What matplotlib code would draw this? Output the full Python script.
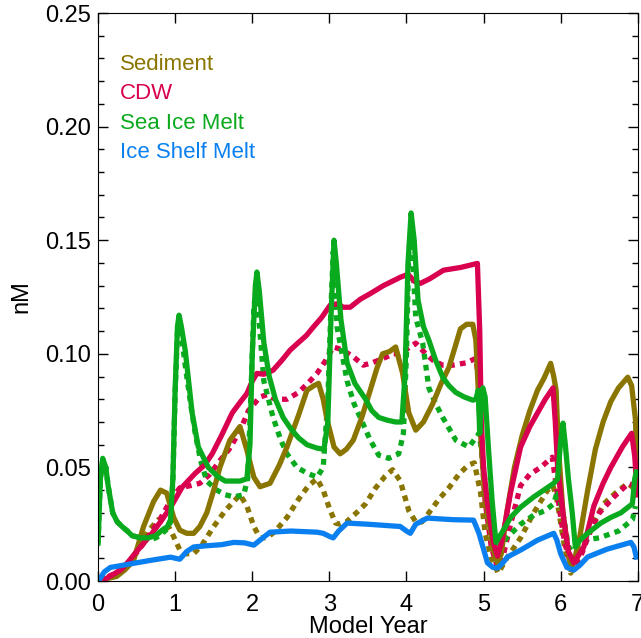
import matplotlib
matplotlib.use('Agg')
import matplotlib.pyplot as plt
from matplotlib.ticker import MultipleLocator

plt.rcParams['font.family'] = ['Liberation Sans', 'DejaVu Sans']
plt.rcParams['font.size'] = 17

labels = ['Sediment', 'CDW', 'Sea Ice Melt', 'Ice Shelf Melt']
colors = ['#8a7500', '#d8004f', '#0aaa1e', '#0a80f0']

# solid lines
sed_x = [0, 0.1, 0.24, 0.35, 0.46, 0.59, 0.72, 0.81, 0.89, 0.98, 1.06, 1.15, 1.24, 1.32, 1.41, 1.5, 1.58,
         1.71, 1.84, 1.93, 2.02, 2.1, 2.23, 2.35, 2.45, 2.6, 2.71, 2.8, 2.86, 2.92, 2.97, 3.06, 3.14, 3.22,
         3.31, 3.42, 3.53, 3.62, 3.69, 3.78, 3.86, 3.95, 4.03, 4.12, 4.22, 4.34, 4.45, 4.55, 4.63, 4.7,
         4.78, 4.86, 4.9, 4.93, 4.96, 5.01, 5.06, 5.13, 5.18, 5.23, 5.3, 5.4, 5.5, 5.6, 5.7, 5.78, 5.87,
         5.91, 5.94, 5.97, 6.03, 6.09, 6.13, 6.17, 6.25, 6.35, 6.45, 6.55, 6.65, 6.75, 6.87, 6.92, 6.97, 6.99]
sed_y = [0, 0.001, 0.002, 0.005, 0.009, 0.024, 0.035, 0.040, 0.0387, 0.028, 0.0224, 0.021, 0.021, 0.024,
         0.030, 0.040, 0.050, 0.062, 0.068, 0.0576, 0.0457, 0.0415, 0.043, 0.051, 0.059, 0.073, 0.084, 0.086,
         0.087, 0.080, 0.071, 0.059, 0.056, 0.058, 0.062, 0.072, 0.084, 0.094, 0.100, 0.101, 0.103, 0.0914,
         0.074, 0.0664, 0.070, 0.078, 0.087, 0.094, 0.103, 0.111, 0.113, 0.113, 0.106, 0.085, 0.065, 0.040,
         0.028, 0.0136, 0.008, 0.012, 0.030, 0.050, 0.064, 0.075, 0.084, 0.089, 0.0958, 0.090, 0.084, 0.059,
         0.030, 0.015, 0.006, 0.008, 0.020, 0.040, 0.058, 0.070, 0.079, 0.085, 0.0897, 0.086, 0.071, 0.045]

cdw_x = [0, 0.1, 0.2, 0.3, 0.39, 0.5, 0.6, 0.7, 0.83, 0.95, 1.09, 1.26, 1.38, 1.48, 1.6, 1.74, 1.85, 1.93,
         2.0, 2.06, 2.15, 2.27, 2.38, 2.49, 2.6, 2.7, 2.79, 2.9, 3.01, 3.1, 3.18, 3.27, 3.4, 3.53, 3.7, 3.92,
         4.02, 4.1, 4.18, 4.3, 4.48, 4.7, 4.92, 4.95, 4.97, 5.0, 5.05, 5.13, 5.18, 5.24, 5.35, 5.48, 5.6,
         5.7, 5.8, 5.9, 5.93, 5.96, 6.04, 6.1, 6.17, 6.3, 6.43, 6.55, 6.65, 6.8, 6.92, 6.96, 6.99]
cdw_y = [0, 0.001, 0.003, 0.005, 0.0084, 0.013, 0.017, 0.021, 0.027, 0.033, 0.0413, 0.0474, 0.051, 0.056,
         0.064, 0.074, 0.079, 0.0825, 0.088, 0.0914, 0.091, 0.0928, 0.097, 0.1016, 0.105, 0.108, 0.1117,
         0.116, 0.1214, 0.122, 0.1205, 0.1205, 0.124, 0.1265, 0.130, 0.1337, 0.135, 0.132, 0.131, 0.133,
         0.1368, 0.138, 0.1398, 0.110, 0.070, 0.050, 0.034, 0.0167, 0.011, 0.018, 0.039, 0.059, 0.068,
         0.074, 0.080, 0.085, 0.070, 0.050, 0.027, 0.013, 0.008, 0.015, 0.033, 0.043, 0.050, 0.059, 0.065,
         0.055, 0.040]

sim_x = [0, 0.03, 0.06, 0.1, 0.13, 0.19, 0.25, 0.31, 0.38, 0.44, 0.55, 0.65, 0.75, 0.83, 0.9, 0.94, 0.97,
         1.0, 1.03, 1.05, 1.08, 1.13, 1.22, 1.3, 1.43, 1.55, 1.65, 1.75, 1.84, 1.93, 1.97, 2.0, 2.04, 2.06,
         2.09, 2.15, 2.22, 2.3, 2.4, 2.5, 2.6, 2.71, 2.84, 2.93, 2.98, 3.02, 3.06, 3.09, 3.15, 3.23, 3.33,
         3.47, 3.55, 3.64, 3.75, 3.86, 3.94, 3.98, 4.02, 4.06, 4.1, 4.15, 4.22, 4.29, 4.38, 4.47, 4.55, 4.64,
         4.75, 4.86, 4.9, 4.93, 4.95, 4.97, 4.99, 5.02, 5.06, 5.11, 5.16, 5.25, 5.35, 5.48, 5.65, 5.78, 5.91,
         5.96, 6.0, 6.03, 6.06, 6.1, 6.15, 6.19, 6.25, 6.35, 6.52, 6.65, 6.78, 6.93, 6.96, 6.98]
sim_y = [0.0167, 0.045, 0.054, 0.050, 0.042, 0.030, 0.026, 0.024, 0.022, 0.020, 0.019, 0.019, 0.020,
         0.0224, 0.024, 0.027, 0.045, 0.085, 0.112, 0.117, 0.112, 0.1016, 0.074, 0.059, 0.050, 0.046, 0.044,
         0.044, 0.044, 0.045, 0.060, 0.100, 0.130, 0.136, 0.128, 0.105, 0.090, 0.080, 0.072, 0.067, 0.063,
         0.060, 0.0585, 0.058, 0.070, 0.115, 0.150, 0.140, 0.115, 0.096, 0.087, 0.080, 0.075, 0.072, 0.0708,
         0.070, 0.070, 0.090, 0.140, 0.162, 0.150, 0.1236, 0.112, 0.106, 0.097, 0.0897, 0.086, 0.083, 0.081,
         0.0796, 0.080, 0.084, 0.065, 0.082, 0.085, 0.081, 0.060, 0.0356, 0.017, 0.022, 0.028, 0.0325, 0.037,
         0.040, 0.043, 0.045, 0.062, 0.0695, 0.060, 0.045, 0.030, 0.015, 0.018, 0.021, 0.0255, 0.028, 0.030,
         0.034, 0.045, 0.048]

ism_x = [0, 0.03, 0.08, 0.16, 0.25, 0.46, 0.7, 0.94, 1.06, 1.15, 1.24, 1.4, 1.6, 1.76, 1.9, 2.02, 2.1, 2.23,
         2.5, 2.84, 2.92, 3.01, 3.05, 3.12, 3.23, 3.5, 3.92, 4.0, 4.05, 4.12, 4.27, 4.6, 4.87, 4.94, 5.0,
         5.05, 5.12, 5.18, 5.25, 5.31, 5.5, 5.7, 5.91, 5.95, 6.0, 6.08, 6.17, 6.25, 6.35, 6.6, 6.91, 6.95, 6.98]
ism_y = [0, 0.0013, 0.004, 0.006, 0.0065, 0.0078, 0.0092, 0.0105, 0.0096, 0.013, 0.015, 0.0155, 0.016,
         0.017, 0.0168, 0.0158, 0.018, 0.0215, 0.022, 0.0215, 0.021, 0.0195, 0.019, 0.022, 0.0255, 0.025,
         0.024, 0.022, 0.021, 0.025, 0.0277, 0.027, 0.0268, 0.021, 0.014, 0.008, 0.006, 0.0057, 0.008,
         0.0106, 0.014, 0.018, 0.021, 0.018, 0.012, 0.006, 0.0048, 0.007, 0.0106, 0.014, 0.017, 0.015, 0.0106]

# dotted lines
sed_d_x = [0, 0.2, 0.35, 0.5, 0.65, 0.78, 0.88, 0.96, 1.06, 1.15, 1.24, 1.35, 1.5, 1.65, 1.76, 1.84, 1.93,
           2.02, 2.1, 2.19, 2.3, 2.45, 2.6, 2.73, 2.84, 2.92, 3.0, 3.08, 3.14, 3.22, 3.35, 3.47, 3.6, 3.72,
           3.82, 3.92, 4.03, 4.12, 4.2, 4.29, 4.42, 4.55, 4.68, 4.8, 4.88, 4.96, 5.02, 5.1, 5.19, 5.3, 5.48,
           5.65, 5.83, 5.9, 5.95, 6.05, 6.13, 6.25, 6.4, 6.56, 6.72, 6.87, 6.98]
sed_d_y = [0, 0.002, 0.006, 0.013, 0.022, 0.027, 0.026, 0.021, 0.0137, 0.012, 0.012, 0.016, 0.024, 0.031,
           0.035, 0.038, 0.033, 0.024, 0.019, 0.019, 0.022, 0.028, 0.036, 0.042, 0.045, 0.040, 0.032, 0.0255,
           0.025, 0.026, 0.030, 0.034, 0.041, 0.046, 0.049, 0.044, 0.031, 0.026, 0.026, 0.030, 0.036, 0.041,
           0.047, 0.051, 0.052, 0.039, 0.021, 0.010, 0.0035, 0.010, 0.019, 0.030, 0.040, 0.042, 0.036, 0.015,
           0.0035, 0.012, 0.024, 0.034, 0.039, 0.043, 0.040]

cdw_d_x = [0, 0.2, 0.4, 0.6, 0.8, 0.95, 1.06, 1.2, 1.32, 1.45, 1.58, 1.7, 1.84, 1.95, 2.1, 2.19, 2.3, 2.45,
           2.6, 2.72, 2.84, 2.95, 3.05, 3.15, 3.3, 3.44, 3.55, 3.7, 3.83, 3.9, 4.0, 4.12, 4.25, 4.35, 4.47,
           4.6, 4.77, 4.9, 4.93, 4.97, 5.02, 5.1, 5.18, 5.26, 5.35, 5.48, 5.6, 5.74, 5.89, 5.93, 5.97, 6.05,
           6.15, 6.25, 6.39, 6.5, 6.69, 6.88, 6.95, 6.99]
cdw_d_y = [0, 0.003, 0.008, 0.017, 0.027, 0.036, 0.041, 0.042, 0.043, 0.047, 0.053, 0.058, 0.066, 0.075,
           0.081, 0.082, 0.080, 0.080, 0.083, 0.087, 0.0914, 0.097, 0.103, 0.102, 0.099, 0.095, 0.096, 0.098,
           0.100, 0.100, 0.102, 0.1047, 0.100, 0.097, 0.095, 0.095, 0.096, 0.098, 0.090, 0.060, 0.035, 0.015,
           0.006, 0.012, 0.025, 0.042, 0.047, 0.050, 0.0545, 0.045, 0.035, 0.017, 0.005, 0.010, 0.0224,
           0.030, 0.037, 0.043, 0.042, 0.035]

sim_d_x = [0, 0.03, 0.06, 0.1, 0.13, 0.19, 0.25, 0.31, 0.38, 0.44, 0.55, 0.65, 0.75, 0.83, 0.9, 0.94, 0.97,
           1.0, 1.03, 1.05, 1.08, 1.13, 1.2, 1.26, 1.33, 1.41, 1.54, 1.65, 1.76, 1.89, 1.94, 1.98, 2.02, 2.05,
           2.08, 2.15, 2.27, 2.37, 2.45, 2.58, 2.71, 2.84, 2.92, 2.98, 3.02, 3.05, 3.1, 3.23, 3.32, 3.4, 3.53,
           3.64, 3.77, 3.9, 3.96, 4.0, 4.03, 4.06, 4.12, 4.21, 4.29, 4.38, 4.47, 4.64, 4.81, 4.94, 4.98, 5.03,
           5.1, 5.18, 5.3, 5.48, 5.65, 5.8, 5.91, 5.96, 6.03, 6.1, 6.16, 6.3, 6.5, 6.75, 6.93, 6.97]
sim_d_y = [0.0167, 0.045, 0.053, 0.050, 0.042, 0.030, 0.026, 0.024, 0.022, 0.020, 0.019, 0.018, 0.019,
           0.021, 0.023, 0.026, 0.044, 0.083, 0.110, 0.114, 0.108, 0.095, 0.078, 0.065, 0.053, 0.044, 0.040,
           0.038, 0.037, 0.038, 0.045, 0.080, 0.120, 0.130, 0.118, 0.088, 0.072, 0.062, 0.056, 0.050, 0.0475,
           0.0457, 0.050, 0.080, 0.120, 0.145, 0.1117, 0.088, 0.078, 0.072, 0.062, 0.0554, 0.054, 0.056,
           0.065, 0.100, 0.145, 0.155, 0.116, 0.1047, 0.085, 0.078, 0.072, 0.062, 0.059, 0.065, 0.056, 0.040,
           0.025, 0.0136, 0.019, 0.025, 0.029, 0.031, 0.034, 0.040, 0.030, 0.015, 0.013, 0.018, 0.019, 0.022,
           0.027, 0.033]

solid = [(sed_x, sed_y), (cdw_x, cdw_y), (sim_x, sim_y), (ism_x, ism_y)]
dotted = [(sed_d_x, sed_d_y), (cdw_d_x, cdw_d_y), (sim_d_x, sim_d_y)]

fig = plt.figure(figsize=(6.41, 6.38), dpi=100)
ax = fig.add_axes([0.153, 0.0893, 0.842, 0.8903])

for (x, y), c in zip(dotted, colors):
    ax.plot(x, y, color=c, lw=3.8, linestyle=(0, (1.1, 1.0)), dash_capstyle='butt')
for (x, y), c in zip(solid, colors):
    ax.plot(x, y, color=c, lw=3.8, solid_joinstyle='round')

ax.set_xlim(0, 7)
ax.set_ylim(0, 0.25)
ax.xaxis.set_major_locator(MultipleLocator(1))
ax.yaxis.set_major_locator(MultipleLocator(0.05))
ax.yaxis.set_minor_locator(MultipleLocator(0.01))
ax.yaxis.set_major_formatter(plt.FuncFormatter(lambda v, p: f'{v:.2f}'))
ax.tick_params(which='both', direction='in', top=True, right=True, width=1, labelsize=17)
ax.tick_params(which='major', length=7.5)
ax.tick_params(which='minor', length=4)
ax.tick_params(axis='x', pad=9)
ax.tick_params(axis='y', pad=5)
ax.set_xlabel('Model Year', labelpad=0, fontsize=17)
ax.set_ylabel('nM', labelpad=9, fontsize=17)

for i, (lab, c) in enumerate(zip(labels, colors)):
    ax.text(0.04, 0.9 - i * 0.052, lab, color=c, transform=ax.transAxes, fontsize=16)

fig.savefig('out.png', dpi=100)
